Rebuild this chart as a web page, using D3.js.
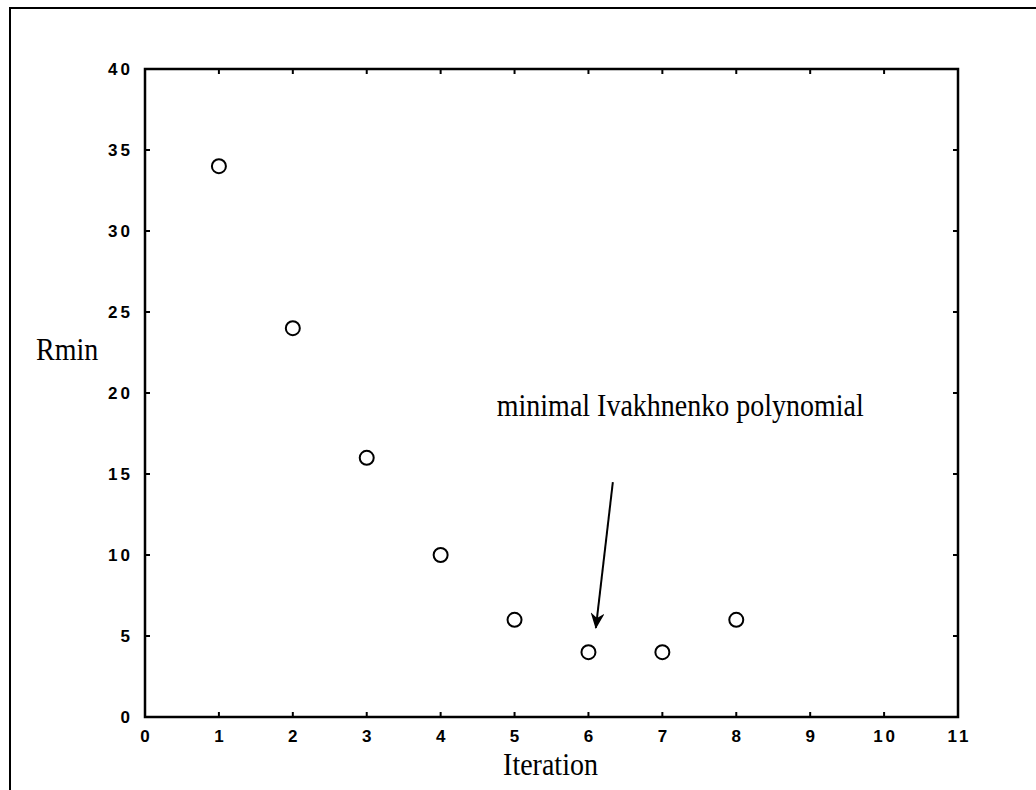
<!DOCTYPE html>
<html>
<head>
<meta charset="utf-8">
<title>Rmin per iteration</title>
<script src="https://d3js.org/d3.v7.min.js"></script>
<style>
  body { margin: 0; background: #fff; }
  .tick-label { font-family: "Liberation Sans", Arial, sans-serif; font-weight: bold; font-size: 17px; letter-spacing: 3px; fill: #000; }
  .serif { font-family: "Liberation Serif", "Times New Roman", serif; fill: #000; }
</style>
</head>
<body>
<svg id="chart" width="1036" height="790"></svg>
<script>
// data
var iterations = [1, 2, 3, 4, 5, 6, 7, 8];
var rmin = [34, 24, 16, 10, 6, 4, 4, 6];
var xTicks = [0, 1, 2, 3, 4, 5, 6, 7, 8, 9, 10, 11];
var yTicks = [0, 5, 10, 15, 20, 25, 30, 35, 40];
var noteText = "minimal Ivakhnenko polynomial";
var notePos = [4.76, 18.6];
var arrowFrom = [6.33, 14.5];
var arrowTo = [6.1, 5.5];

var svg = d3.select("#chart"),
    margin = {top: 69, right: 78, bottom: 73, left: 145},
    width = 1036 - margin.left - margin.right,
    height = 790 - margin.top - margin.bottom;

// outer frame (top and left edges only show)
svg.append("path")
    .attr("d", "M1036,8H10V790")
    .attr("fill", "none")
    .attr("stroke", "#000")
    .attr("stroke-width", 2);

var x = d3.scaleLinear().domain([0, 11]).range([0, width]),
    y = d3.scaleLinear().domain([0, 40]).range([height, 0]);

var g = svg.append("g")
    .attr("transform", "translate(" + margin.left + "," + margin.top + ")");

// ticks on all four sides, pointing inwards
var tk = 5;
g.selectAll(".xt-bot").data(xTicks).enter().append("line")
    .attr("x1", d => x(d)).attr("x2", d => x(d))
    .attr("y1", height).attr("y2", height - tk)
    .attr("stroke", "#000").attr("stroke-width", 2);
g.selectAll(".xt-top").data(xTicks).enter().append("line")
    .attr("x1", d => x(d)).attr("x2", d => x(d))
    .attr("y1", 0).attr("y2", tk)
    .attr("stroke", "#000").attr("stroke-width", 2);
g.selectAll(".yt-left").data(yTicks).enter().append("line")
    .attr("x1", 0).attr("x2", tk)
    .attr("y1", d => y(d)).attr("y2", d => y(d))
    .attr("stroke", "#000").attr("stroke-width", 2);
g.selectAll(".yt-right").data(yTicks).enter().append("line")
    .attr("x1", width).attr("x2", width - tk)
    .attr("y1", d => y(d)).attr("y2", d => y(d))
    .attr("stroke", "#000").attr("stroke-width", 2);

// box
g.append("rect")
    .attr("width", width).attr("height", height)
    .attr("fill", "none")
    .attr("stroke", "#000")
    .attr("stroke-width", 2.5);

// tick labels
g.selectAll(".xl").data(xTicks).enter().append("text")
    .attr("class", "tick-label")
    .attr("x", d => x(d) + 1.5)
    .attr("y", height + 25)
    .attr("text-anchor", "middle")
    .text(d => d);
g.selectAll(".yl").data(yTicks).enter().append("text")
    .attr("class", "tick-label")
    .attr("x", -12)
    .attr("y", d => y(d) + 6)
    .attr("text-anchor", "end")
    .text(d => d);

// serif text, stretched a little vertically like the scan
function serifText(parent, tx, ty, str, anchor) {
  return parent.append("text")
      .attr("class", "serif")
      .attr("transform", "translate(" + tx + "," + ty + ") scale(1,1.15)")
      .attr("text-anchor", anchor || "start")
      .attr("font-size", 28)
      .text(str);
}

// axis titles
serifText(svg, margin.left + width / 2 - 1, 775, "Iteration", "middle");
serifText(svg, 36, 360, "Rmin");

// points
g.selectAll(".pt").data(iterations).enter().append("circle")
    .attr("cx", d => x(d))
    .attr("cy", (d, i) => y(rmin[i]))
    .attr("r", 7)
    .attr("fill", "none")
    .attr("stroke", "#000")
    .attr("stroke-width", 2);

// annotation
serifText(g, x(notePos[0]), y(notePos[1]), noteText);

svg.append("defs").append("marker")
    .attr("id", "head")
    .attr("viewBox", "0 0 16 14")
    .attr("refX", 15).attr("refY", 7)
    .attr("markerWidth", 16).attr("markerHeight", 14)
    .attr("markerUnits", "userSpaceOnUse")
    .attr("orient", "auto")
  .append("path")
    .attr("d", "M0,0L16,7L0,14L5,7Z")
    .attr("fill", "#000");

g.append("line")
    .attr("x1", x(arrowFrom[0])).attr("y1", y(arrowFrom[1]))
    .attr("x2", x(arrowTo[0])).attr("y2", y(arrowTo[1]))
    .attr("stroke", "#000")
    .attr("stroke-width", 2)
    .attr("marker-end", "url(#head)");
</script>
</body>
</html>
